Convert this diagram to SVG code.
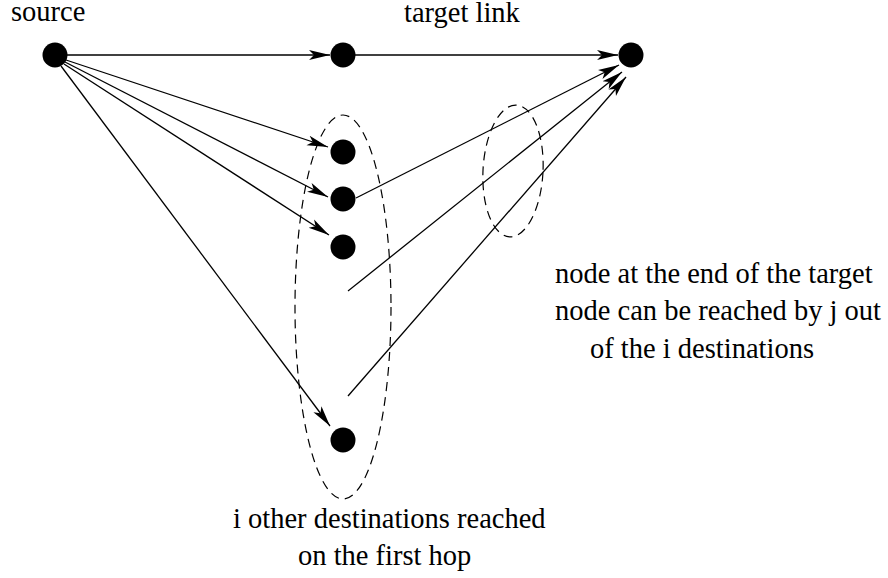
<svg xmlns="http://www.w3.org/2000/svg" width="888" height="578" viewBox="0 0 888 578">
<defs>
<marker id="ah" markerUnits="userSpaceOnUse" markerWidth="22" markerHeight="12" refX="21" refY="5" orient="auto" viewBox="0 0 22 10">
<path d="M0,0 L21,5 L0,10 L5,5 z" fill="#000"/>
</marker>
<style>
.n{fill:#000}
.e{stroke:#000;stroke-width:1.3;fill:none}
.a{marker-end:url(#ah)}
.d{stroke:#000;stroke-width:1.2;fill:none;stroke-dasharray:9,6}
.t{font-family:'Liberation Serif','Times New Roman',serif;font-size:28.5px;fill:#000}
</style>
</defs>
<rect width="888" height="578" fill="#fff"/>
<g id="connectors">
<line class="e a" x1="67" y1="55" x2="330" y2="55"/>
<line class="e a" x1="66" y1="60" x2="328" y2="147"/>
<line class="e a" x1="65" y1="62" x2="328" y2="197"/>
<line class="e a" x1="64" y1="64" x2="329" y2="235"/>
<line class="e a" x1="61" y1="66" x2="330" y2="426"/>
<line class="e a" x1="355" y1="55" x2="618" y2="55"/>
<line class="e a" x1="356" y1="198" x2="619" y2="65"/>
<line class="e a" x1="348" y1="291" x2="622" y2="72"/>
<line class="e a" x1="348" y1="396" x2="626" y2="77"/>
</g>
<g id="groups">
<ellipse class="d" cx="343" cy="307" rx="48" ry="192"/>
<ellipse class="d" cx="513" cy="171" rx="30" ry="66" transform="rotate(3 513 171)"/>
</g>
<g id="source"><circle class="n" cx="55" cy="55" r="12.5"/><text class="t" x="11" y="21">source</text></g>
<g id="link-start"><circle class="n" cx="343" cy="55" r="12.5"/><text class="t" x="404" y="22">target link</text></g>
<g id="target"><circle class="n" cx="631" cy="55" r="12.5"/></g>
<g id="d1"><circle class="n" cx="343" cy="152" r="12.5"/></g>
<g id="d2"><circle class="n" cx="343" cy="199" r="12.5"/></g>
<g id="d3"><circle class="n" cx="343" cy="247" r="12.5"/></g>
<g id="d4"><circle class="n" cx="343" cy="440" r="12.5"/></g>
<g id="label-first-hop">
<text class="t" x="233" y="528">i other destinations reached</text>
<text class="t" x="298" y="565">on the first hop</text>
</g>
<g id="label-target">
<text class="t" x="555" y="283">node at the end of the target</text>
<text class="t" x="555" y="320">node can be reached by j out</text>
<text class="t" x="590" y="358">of the i destinations</text>
</g>
</svg>
